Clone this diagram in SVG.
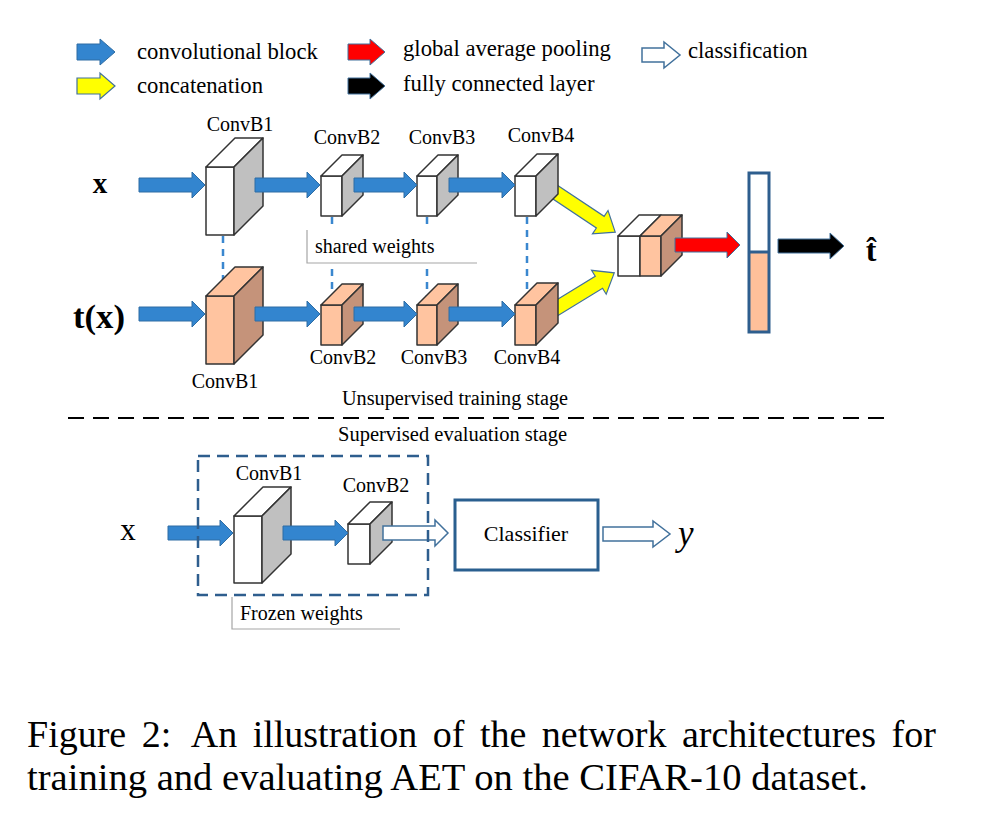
<svg xmlns="http://www.w3.org/2000/svg" width="986" height="824" viewBox="0 0 986 824">
<style>
text{font-family:"Liberation Serif","Times New Roman",serif;fill:#000}
.lg{font-size:22.7px}
.lb{font-size:20px;text-anchor:middle}
.sm{font-size:20px}
.blue{fill:#3385CF;stroke:#2E6DA4;stroke-width:1}
.yel{fill:#FFFF00;stroke:#41719C;stroke-width:1.2}
.red{fill:#FF0000;stroke:#41719C;stroke-width:1}
.blk{fill:#000;stroke:#41719C;stroke-width:1}
.wht{fill:#fff;stroke:#41719C;stroke-width:1.5}
.fw{fill:#fff;stroke:#333;stroke-width:1.5;stroke-linejoin:round}
.sg{fill:#C0C0C0;stroke:#333;stroke-width:1.5;stroke-linejoin:round}
.fo{fill:#FFC4A0;stroke:#333;stroke-width:1.5;stroke-linejoin:round}
.so{fill:#C5937A;stroke:#333;stroke-width:1.5;stroke-linejoin:round}
.vd{stroke:#3A87CF;stroke-width:2.5;stroke-dasharray:7 6;fill:none}
</style>

<!-- Legend -->
<g id="legend">
  <path class="blue" d="M77,44 L100,44 L100,39 L115,52 L100,65 L100,60 L77,60 Z"/>
  <text class="lg" x="137" y="59">convolutional block</text>
  <path class="yel" d="M77,78 L100,78 L100,73 L115,86 L100,99 L100,94 L77,94 Z"/>
  <text class="lg" x="137" y="93">concatenation</text>
  <path class="red" d="M348,44 L370,44 L370,39 L385,52 L370,65 L370,60 L348,60 Z"/>
  <text class="lg" x="403" y="56">global average pooling</text>
  <path class="blk" d="M348,78 L370,78 L370,73 L385,86 L370,99 L370,94 L348,94 Z"/>
  <text class="lg" x="403" y="91">fully connected layer</text>
  <path class="wht" d="M642,48 L664,48 L664,42 L680,55 L664,68 L664,62 L642,62 Z"/>
  <text class="lg" x="688" y="58">classification</text>
</g>

<!-- shared-weight dashed verticals and concat arrows -->
<g id="connectors">
  <line class="vd" x1="223" y1="236" x2="223" y2="296"/>
  <line class="vd" x1="332" y1="217" x2="332" y2="305"/>
  <line class="vd" x1="427" y1="217" x2="427" y2="305"/>
  <line class="vd" x1="527" y1="217" x2="527" y2="305"/>
  <path class="yel" transform="translate(552,190) rotate(33.7)" d="M0,-7 L58,-7 L58,-14 L76,0 L58,14 L58,7 L0,7 Z"/>
  <path class="yel" transform="translate(552,311) rotate(-31.5)" d="M0,-7 L55,-7 L55,-14 L73,0 L55,14 L55,7 L0,7 Z"/>
</g>

<g id="shared-weights">
  <rect x="307" y="230" width="170" height="33" fill="#fff"/>
  <path d="M307,230 L307,263 L477,263" fill="none" stroke="#A6A6A6" stroke-width="1.2"/>
  <text class="sm" x="315" y="253">shared weights</text>
</g>

<!-- Top row cubes -->
<g id="top-convb1">
  <rect class="fw" x="206" y="167" width="28" height="68"/>
  <polygon class="fw" points="206,167 234,167 263,138 235,138"/>
  <polygon class="sg" points="234,167 263,138 263,206 234,235"/>
  <text class="lb" x="240" y="131">ConvB1</text>
</g>
<g id="top-convb2">
  <rect class="fw" x="321" y="176" width="21" height="40"/>
  <polygon class="fw" points="321,176 342,176 363,155 342,155"/>
  <polygon class="sg" points="342,176 363,155 363,195 342,216"/>
  <text class="lb" x="347" y="144">ConvB2</text>
</g>
<g id="top-convb3">
  <rect class="fw" x="417" y="176" width="20" height="40"/>
  <polygon class="fw" points="417,176 437,176 458,155 438,155"/>
  <polygon class="sg" points="437,176 458,155 458,195 437,216"/>
  <text class="lb" x="442" y="144">ConvB3</text>
</g>
<g id="top-convb4">
  <rect class="fw" x="515" y="176" width="21" height="40"/>
  <polygon class="fw" points="515,176 536,176 558,154 537,154"/>
  <polygon class="sg" points="536,176 558,154 558,194 536,216"/>
  <text class="lb" x="541" y="142">ConvB4</text>
</g>

<!-- Bottom row cubes -->
<g id="bot-convb1">
  <rect class="fo" x="206" y="296" width="28" height="68"/>
  <polygon class="fo" points="206,296 234,296 263,267 235,267"/>
  <polygon class="so" points="234,296 263,267 263,335 234,364"/>
  <text class="lb" x="225" y="388">ConvB1</text>
</g>
<g id="bot-convb2">
  <rect class="fo" x="321" y="305" width="21" height="40"/>
  <polygon class="fo" points="321,305 342,305 363,284 342,284"/>
  <polygon class="so" points="342,305 363,284 363,324 342,345"/>
  <text class="lb" x="343" y="364">ConvB2</text>
</g>
<g id="bot-convb3">
  <rect class="fo" x="417" y="305" width="20" height="40"/>
  <polygon class="fo" points="417,305 437,305 458,284 438,284"/>
  <polygon class="so" points="437,305 458,284 458,324 437,345"/>
  <text class="lb" x="434" y="364">ConvB3</text>
</g>
<g id="bot-convb4">
  <rect class="fo" x="515" y="305" width="21" height="40"/>
  <polygon class="fo" points="515,305 536,305 558,283 537,283"/>
  <polygon class="so" points="536,305 558,283 558,323 536,345"/>
  <text class="lb" x="527" y="364">ConvB4</text>
</g>

<!-- Concat cube -->
<g id="concat">
  <rect class="fw" x="618" y="236" width="22" height="40"/>
  <rect class="fo" x="640" y="236" width="21" height="40"/>
  <polygon class="fw" points="618,236 640,236 661,215 639,215"/>
  <polygon class="fo" points="640,236 661,236 682,215 661,215"/>
  <polygon class="so" points="661,236 682,215 682,255 661,276"/>
</g>

<!-- Vector -->
<g id="vector">
  <rect x="749" y="173" width="20" height="79" fill="#fff"/>
  <rect x="749" y="252" width="20" height="80" fill="#FFC09A"/>
  <line x1="749" y1="252" x2="769" y2="252" stroke="#2E5E8E" stroke-width="3"/>
  <rect x="749" y="173" width="20" height="159" fill="none" stroke="#2E5E8E" stroke-width="3"/>
</g>

<!-- Arrows (main) -->
<g id="arrows">
  <path class="blue" d="M139,178 L192,178 L192,172 L205,185 L192,198 L192,192 L139,192 Z"/>
  <path class="blue" d="M255,178 L307,178 L307,172 L320,185 L307,198 L307,192 L255,192 Z"/>
  <path class="blue" d="M354,178 L404,178 L404,172 L417,185 L404,198 L404,192 L354,192 Z"/>
  <path class="blue" d="M449,178 L502,178 L502,172 L515,185 L502,198 L502,192 L449,192 Z"/>
  <path class="blue" d="M139,307 L192,307 L192,301 L205,314 L192,327 L192,321 L139,321 Z"/>
  <path class="blue" d="M255,307 L307,307 L307,301 L320,314 L307,327 L307,321 L255,321 Z"/>
  <path class="blue" d="M354,307 L404,307 L404,301 L417,314 L404,327 L404,321 L354,321 Z"/>
  <path class="blue" d="M449,307 L502,307 L502,301 L515,314 L502,327 L502,321 L449,321 Z"/>
  <path class="red" d="M675,238 L727,238 L727,232 L740,245 L727,258 L727,252 L675,252 Z"/>
  <path class="blk" d="M778,239 L830,239 L830,233 L844,246 L830,259 L830,253 L778,253 Z"/>
</g>

<text x="100" y="193" font-size="29" font-weight="bold" text-anchor="middle">x</text>
<text x="73" y="328" font-size="33" font-weight="bold" textLength="52" lengthAdjust="spacingAndGlyphs">t(x)</text>
<text x="871" y="261" font-size="32" font-weight="bold" text-anchor="middle">t̂</text>

<text class="sm" x="342" y="405" textLength="226" lengthAdjust="spacingAndGlyphs">Unsupervised training stage</text>
<line x1="68" y1="418" x2="887" y2="418" stroke="#000" stroke-width="2" stroke-dasharray="16 9"/>
<text class="sm" x="338" y="441" textLength="229" lengthAdjust="spacingAndGlyphs">Supervised evaluation stage</text>

<!-- Evaluation section -->
<text x="128" y="540" font-size="31" text-anchor="middle">x</text>
<g id="eval-convb1">
  <rect class="fw" x="234" y="516" width="28" height="67"/>
  <polygon class="fw" points="234,516 262,516 291,487 263,487"/>
  <polygon class="sg" points="262,516 291,487 291,554 262,583"/>
  <text class="lb" x="269" y="480">ConvB1</text>
</g>
<g id="eval-convb2">
  <rect class="fw" x="348" y="524" width="22" height="40"/>
  <polygon class="fw" points="348,524 370,524 392,502 370,502"/>
  <polygon class="sg" points="370,524 392,502 392,542 370,564"/>
  <text class="lb" x="376" y="492">ConvB2</text>
</g>
<g id="eval-arrows">
  <path class="blue" d="M168,526 L220,526 L220,520 L233,533 L220,546 L220,540 L168,540 Z"/>
  <path class="blue" d="M283,526 L335,526 L335,520 L348,533 L335,546 L335,540 L283,540 Z"/>
  <path class="wht" d="M383,526 L435,526 L435,520 L448,533 L435,546 L435,540 L383,540 Z"/>
  <path class="wht" d="M603,527 L653,527 L653,521 L670,534 L653,547 L653,541 L603,541 Z"/>
</g>
<g id="frozen">
  <rect x="198" y="456" width="230" height="139" fill="none" stroke="#2E5E8E" stroke-width="2.5" stroke-dasharray="12 7"/>
  <path d="M232,597 L232,629 L400,629" fill="none" stroke="#A6A6A6" stroke-width="1.2"/>
  <text class="sm" x="240" y="620">Frozen weights</text>
</g>
<g id="classifier">
  <rect x="455" y="500" width="143" height="70" fill="#fff" stroke="#2A5F8F" stroke-width="3"/>
  <text x="526" y="541" font-size="22" text-anchor="middle">Classifier</text>
</g>
<text x="678" y="545" font-size="35" font-style="italic">y</text>

<!-- Caption -->
<text x="27" y="747" font-size="38" word-spacing="6">Figure 2: <tspan dx="6">An illustration of the network architectures for</tspan></text>
<text x="27" y="790" font-size="38" textLength="841" lengthAdjust="spacingAndGlyphs">training and evaluating AET on the CIFAR-10 dataset.</text>
</svg>
